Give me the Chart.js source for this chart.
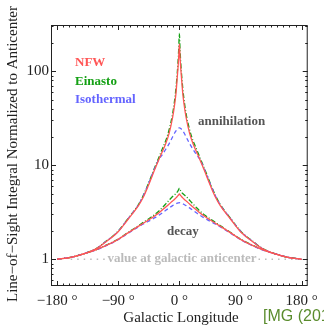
<!DOCTYPE html>
<html>
<head>
<meta charset="utf-8">
<script src="https://cdn.jsdelivr.net/npm/chart.js@4.4.1/dist/chart.umd.min.js"></script>
<style>
body{margin:0;background:#fff}
canvas{display:block}
</style>
</head>
<body>
<canvas id="myChart" width="324" height="325"></canvas>
<script>
const longitude = [-180,-160,-140,-122,-110,-92,-75,-60,-53,-46,-36,-30,-25,-20,-15,-10,-7,-5,-3,-2,-1,0,1,2,3,5,7,10,15,20,25,30,36,46,53,60,75,92,110,122,140,160,180]

const nfwAnn = [1,1.05,1.15,1.3,1.5,1.9,2.7,3.75,4.6,6.0,9.1,11.6,14,17,22,32,44,58,88,108,140,195,140,108,88,58,44,32,22,17,14,11.6,9.1,6.0,4.6,3.75,2.7,1.9,1.5,1.3,1.15,1.05,1]
const einastoAnn = [1,1.05,1.15,1.31,1.52,1.93,2.75,3.85,4.8,6.3,9.6,12.2,15,18.3,24,35,49,66,98,125,170,252,170,125,98,66,49,35,24,18.3,15,12.2,9.6,6.3,4.8,3.85,2.75,1.93,1.52,1.31,1.15,1.05,1]
const isoAnn = [1,1.05,1.15,1.3,1.51,1.92,2.73,3.82,4.75,6.2,9.4,11.6,13,14.8,17,20,22,23.2,24.2,24.6,24.9,25,24.9,24.6,24.2,23.2,22,20,17,14.8,13,11.6,9.4,6.2,4.75,3.82,2.73,1.92,1.51,1.3,1.15,1.05,1]

const nfwDecay = [1,1.05,1.15,1.27,1.38,1.6,1.92,2.25,2.42,2.6,2.9,3.12,3.35,3.6,3.88,4.17,4.36,4.5,4.67,4.76,4.85,4.95,4.85,4.76,4.67,4.5,4.36,4.17,3.88,3.6,3.35,3.12,2.9,2.6,2.42,2.25,1.92,1.6,1.38,1.27,1.15,1.05,1]
const einastoDecay = [1,1.05,1.15,1.27,1.39,1.61,1.94,2.28,2.47,2.67,3.0,3.27,3.55,3.88,4.25,4.65,4.85,5.0,5.2,5.35,5.5,5.7,5.5,5.35,5.2,5.0,4.85,4.65,4.25,3.88,3.55,3.27,3.0,2.67,2.47,2.28,1.94,1.61,1.39,1.27,1.15,1.05,1]
const isoDecay = [1,1.05,1.15,1.26,1.37,1.59,1.9,2.22,2.37,2.52,2.77,2.95,3.12,3.32,3.52,3.72,3.83,3.9,3.95,3.97,3.99,4.0,3.99,3.97,3.95,3.9,3.83,3.72,3.52,3.32,3.12,2.95,2.77,2.52,2.37,2.22,1.9,1.59,1.37,1.26,1.15,1.05,1]

// dotted reference line at the anticenter value, broken where the label sits
const anticenterLon = [-160,-107,0,107,168]
const anticenterVal = [1,1,null,1,1]

const xTicks = [-180,-90,0,90,180]
const yTicks = [1,10,100]

const red = 'rgb(255,85,85)'
const green = 'rgb(20,160,20)'
const blue = 'rgb(100,100,255)'
const serif = '"Liberation Serif", "DejaVu Serif", serif'

function pts(xs, ys){
    var out = []
    for(var i=0;i<xs.length;i++){
        out[i] = {x: xs[i], y: ys[i]}
    }
    return out
}

function curve(vals, color, dash){
    return {
        data: pts(longitude, vals),
        borderColor: color,
        borderWidth: 1.3,
        borderDash: dash,
        pointRadius: 0,
        fill: false,
        cubicInterpolationMode: 'monotone'
    }
}

const frame = {
    id: 'frame',
    afterDatasetsDraw(chart){
        const c = chart.ctx
        const a = chart.chartArea
        const xs = chart.scales.x
        const ys = chart.scales.y
        c.save()
        c.strokeStyle = '#222'
        c.lineWidth = 1
        c.strokeRect(a.left+0.5, a.top+0.5, a.right-a.left-1, a.bottom-a.top-1)

        // inward ticks, x
        for(var l=-180;l<=180;l+=9){
            var px = Math.round(xs.getPixelForValue(l))+0.5
            var len = (l%90==0) ? 5 : 2.5
            c.beginPath()
            c.moveTo(px, a.bottom); c.lineTo(px, a.bottom-len)
            c.moveTo(px, a.top); c.lineTo(px, a.top+len)
            c.stroke()
        }
        // inward ticks, y (log)
        var decades = [0.1,1,10,100]
        for(var d=0;d<decades.length;d++){
            for(var m=1;m<10;m++){
                var v = decades[d]*m
                if(v<ys.min || v>ys.max) continue
                var py = Math.round(ys.getPixelForValue(v))+0.5
                var len2 = (m==1) ? 5 : 2.5
                c.beginPath()
                c.moveTo(a.left, py); c.lineTo(a.left+len2, py)
                c.moveTo(a.right, py); c.lineTo(a.right-len2, py)
                c.stroke()
            }
        }

        // labels
        c.textBaseline = 'middle'
        c.textAlign = 'left'
        c.font = 'bold 13px ' + serif
        c.fillStyle = red; c.fillText('NFW', 75, 63)
        c.fillStyle = green; c.fillText('Einasto', 75, 82)
        c.fillStyle = blue; c.fillText('Isothermal', 75, 100)
        c.fillStyle = '#555'
        c.fillText('annihilation', 198, 122)
        c.fillText('decay', 167, 232)
        c.fillStyle = '#bbb'
        c.textAlign = 'center'
        c.fillText('value at galactic anticenter', 182, 259)

        // axis titles
        c.fillStyle = '#222'
        c.font = '15px ' + serif
        c.fillText('Galactic Longitude', 181, 318)
        c.save()
        c.translate(13, 154)
        c.rotate(-Math.PI/2)
        c.fillText('Line\u2212of\u2212Sight Integral Normalized to Anticenter', 0, 0)
        c.restore()

        c.textAlign = 'left'
        c.fillStyle = 'rgb(90,140,45)'
        c.font = '16px "Liberation Sans", Arial, sans-serif'
        c.fillText('[MG (2014)]', 263, 317)
        c.restore()
    }
}

function chart(){
    const ctx = document.getElementById('myChart')
    const myChart = new Chart(ctx, {
        type: 'line',
        data: {
            datasets: [
                curve(nfwAnn, red, []),
                curve(nfwDecay, red, []),
                curve(isoAnn, blue, [4,3]),
                curve(isoDecay, blue, [4,3]),
                curve(einastoAnn, green, [5,2,1,2]),
                curve(einastoDecay, green, [5,2,1,2]),
                {
                    data: pts(anticenterLon, anticenterVal),
                    borderColor: '#bbb',
                    borderWidth: 1.5,
                    borderDash: [1.5,5],
                    pointRadius: 0,
                    spanGaps: false
                }
            ]
        },
        options: {
            responsive: false,
            animation: false,
            layout: {padding: {left: 0, right: 11, top: 25, bottom: 0}},
            plugins: {legend: {display: false}, tooltip: {enabled: false}},
            scales: {
                x: {
                    type: 'linear',
                    min: -189,
                    max: 189,
                    afterBuildTicks: function(s){ s.ticks = xTicks.map(function(v){ return {value: v} }) },
                    afterFit: function(s){ s.height = 39 },
                    grid: {display: false, drawTicks: false},
                    border: {display: false},
                    ticks: {
                        autoSkip: false,
                        maxRotation: 0,
                        padding: 6,
                        color: '#222',
                        font: {family: serif, size: 15},
                        callback: function(v){ return (v<0 ? '\u2212' + (-v) : v) + ' \u00b0' }
                    }
                },
                y: {
                    type: 'logarithmic',
                    min: 0.52,
                    max: 310,
                    afterBuildTicks: function(s){ s.ticks = yTicks.map(function(v){ return {value: v} }) },
                    afterFit: function(s){ s.width = 51 },
                    grid: {display: false, drawTicks: false},
                    border: {display: false},
                    ticks: {
                        padding: 2,
                        color: '#222',
                        font: {family: serif, size: 15},
                        callback: function(v){ return String(v) }
                    }
                }
            }
        },
        plugins: [frame]
    })
}

chart()
</script>
</body>
</html>
